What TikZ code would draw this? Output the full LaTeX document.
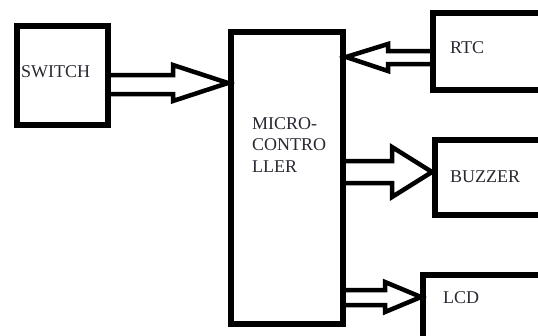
\documentclass[tikz,border=0pt]{standalone}
\usepackage{fontspec}
\setmainfont{Liberation Serif}
\definecolor{txt}{RGB}{40,40,50}
\begin{document}
\begin{tikzpicture}[x=1pt,y=-1pt,
  box/.style={draw, line width=5.5pt, inner sep=0pt},
  blockarrow/.style={draw, line width=4.5pt, line join=miter, miter limit=10},
  lbl/.style={anchor=base west, inner sep=0pt, align=left,
    font=\fontsize{18}{21.5}\selectfont, text=txt}]
\useasboundingbox (0,0) rectangle (538,335);
\clip (0,0) rectangle (538,335);
% boxes
\node[box, minimum width=91pt, minimum height=99pt] (switch) at (62.5,75.5) {};
\node[box, minimum width=112pt, minimum height=292pt] (mcu) at (287,178) {};
\node[box, minimum width=137pt, minimum height=77pt] (rtc) at (501.5,51.5) {};
\node[box, minimum width=135pt, minimum height=75pt] (buzzer) at (502.5,177.5) {};
\node[box, minimum width=147pt, minimum height=95pt] (lcd) at (496.5,322.5) {};
% labels
\node[lbl] (tswitch) at (21,77) {SWITCH};
\node[lbl] (trtc) at (450,53) {RTC};
\node[lbl] (tmcu) at (252,172) {MICRO-\\CONTRO\\LLER};
\node[lbl] (tbuzzer) at (450,182) {BUZZER};
\node[lbl] (tlcd) at (443,303) {LCD};
% block arrows
\draw[blockarrow] (110,75) -- (173,75) -- (173,65) -- (228,83) -- (173,101) -- (173,94) -- (110,94);
\draw[blockarrow] (431,51) -- (388,51) -- (388,44) -- (346,57) -- (388,71) -- (388,64) -- (431,64);
\draw[blockarrow] (345,161) -- (392,161) -- (392,147) -- (432,172) -- (392,197) -- (392,183) -- (345,183);
\draw[blockarrow] (345,290) -- (385,290) -- (385,282) -- (421,297) -- (385,312) -- (385,305) -- (345,305);
\end{tikzpicture}
\end{document}
